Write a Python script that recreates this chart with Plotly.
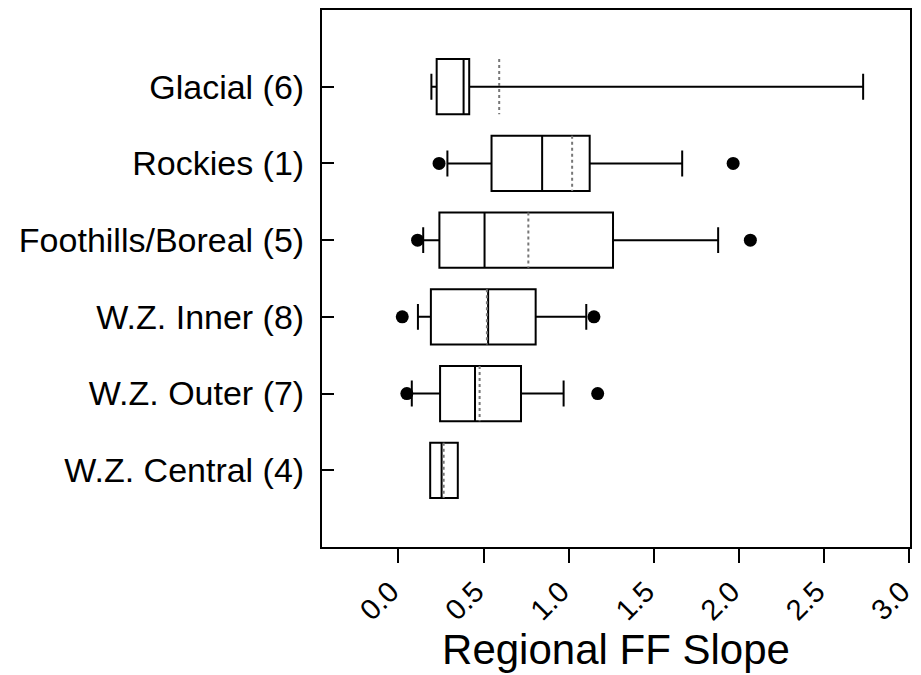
import plotly.graph_objects as go

categories = ["Glacial (6)", "Rockies (1)", "Foothills/Boreal (5)",
              "W.Z. Inner (8)", "W.Z. Outer (7)", "W.Z. Central (4)"]
lower_whisker = [0.194, 0.288, 0.146, 0.115, 0.079, 0.187]
q1_vals       = [0.225, 0.547, 0.241, 0.191, 0.245, 0.187]
median_vals   = [0.383, 0.844, 0.506, 0.527, 0.450, 0.254]
q3_vals       = [0.416, 1.123, 1.260, 0.806, 0.720, 0.349]
upper_whisker = [2.728, 1.666, 1.877, 1.103, 0.970, 0.349]
mean_vals     = [0.592, 1.020, 0.763, 0.520, 0.477, 0.266]
outliers      = [[], [0.239, 1.965], [0.113, 2.066], [0.023, 1.148], [0.050, 1.170], []]
x_ticks = [0.0, 0.5, 1.0, 1.5, 2.0, 2.5, 3.0]
x_tick_labels = ["0.0", "0.5", "1.0", "1.5", "2.0", "2.5", "3.0"]

positions = list(range(len(categories)))
box_w = 0.72

fig = go.Figure()
fig.add_trace(go.Box(
    y=positions, q1=q1_vals, median=median_vals, q3=q3_vals,
    lowerfence=lower_whisker, upperfence=upper_whisker,
    orientation="h", width=box_w, whiskerwidth=0.47,
    fillcolor="white", line=dict(color="black", width=2),
    boxpoints=False, showlegend=False, hoverinfo="skip",
))

# mean lines (dotted)
mx, my = [], []
for p, m in zip(positions, mean_vals):
    mx += [m, m, None]
    my += [p - box_w / 2, p + box_w / 2, None]
fig.add_trace(go.Scatter(x=mx, y=my, mode="lines",
                         line=dict(color="#777777", width=2, dash="dot"),
                         showlegend=False, hoverinfo="skip"))

# outliers
ox, oy = [], []
for p, outs in zip(positions, outliers):
    for v in outs:
        ox.append(v)
        oy.append(p)
fig.add_trace(go.Scatter(x=ox, y=oy, mode="markers",
                         marker=dict(color="black", size=13),
                         showlegend=False, hoverinfo="skip"))

font_family = "Liberation Sans, Arial, sans-serif"
fig.update_layout(
    width=921, height=675,
    margin=dict(l=322, r=11, t=10, b=128),
    paper_bgcolor="white", plot_bgcolor="white",
    font=dict(family=font_family, color="black"),
    xaxis=dict(
        range=[-0.448, 3.003], tickvals=x_ticks, ticktext=x_tick_labels,
        tickangle=-45, ticks="outside", ticklen=14, tickwidth=2, tickcolor="black",
        tickfont=dict(size=29, family=font_family, color="black"),
        ticklabeloverflow="allow", automargin=False, ticklabelshift=-8,
        showline=True, linecolor="black", linewidth=2, mirror=True,
        showgrid=False, zeroline=False,
        title=dict(text="Regional FF Slope", font=dict(size=42, family=font_family, color="black"),
                   standoff=4),
    ),
    yaxis=dict(
        range=[len(categories), -1], tickvals=positions, ticktext=categories,
        ticks="inside", ticklen=12, tickwidth=2, tickcolor="black",
        tickfont=dict(size=34, family=font_family, color="black"),
        ticklabelstandoff=9, automargin=False,
        showline=True, linecolor="black", linewidth=2, mirror=True,
        showgrid=False, zeroline=False,
    ),
)

fig.write_html("out.html")
